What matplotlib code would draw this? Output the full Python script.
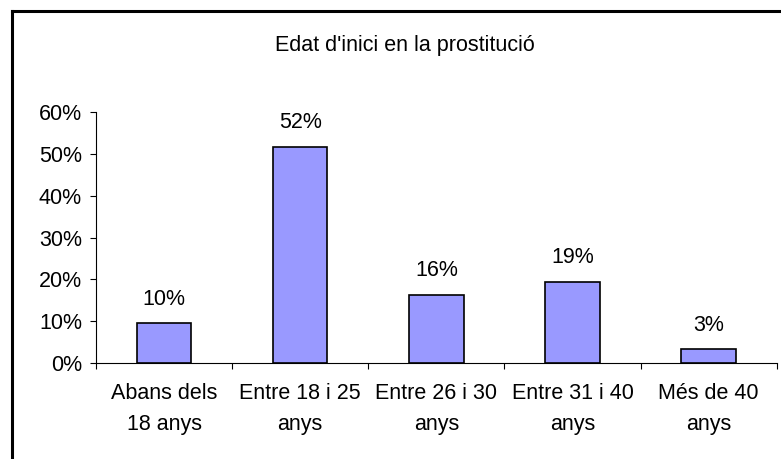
import matplotlib
matplotlib.use("Agg")
import matplotlib.pyplot as plt
from matplotlib.ticker import FuncFormatter, FixedLocator, NullFormatter

plt.rcParams["font.family"] = ["Liberation Sans", "DejaVu Sans"]

# Data
categories = ["Abans dels\n18 anys", "Entre 18 i 25\nanys", "Entre 26 i 30\nanys",
              "Entre 31 i 40\nanys", "Més de 40\nanys"]
values = [9.5, 51.5, 16.3, 19.5, 3.3]
labels = ["10%", "52%", "16%", "19%", "3%"]
yticks = [0, 10, 20, 30, 40, 50, 60]
title = "Edat d'inici en la prostitució"

W, H = 781, 459
fig = plt.figure(figsize=(W / 100, H / 100), dpi=100)
fig.patch.set_facecolor("white")

# outer chart frame (only top and left edges visible in the image)
fig.add_artist(plt.Line2D([12 / W, 12 / W], [0, 1 - 11 / H], color="black", lw=2.2,
                          transform=fig.transFigure))
fig.add_artist(plt.Line2D([12 / W, 1], [1 - 11 / H, 1 - 11 / H], color="black", lw=2.2,
                          transform=fig.transFigure))

left, right = 96 / W, 776.7 / W
bottom, top = (H - 363.3) / H, (H - 111.7) / H
ax = fig.add_axes([left, bottom, right - left, top - bottom])

fs = 15.5
x = list(range(len(categories)))
ax.bar(x, values, width=0.4, color="#9999FF", edgecolor="black", linewidth=1.2, zorder=3)
for xi, v, lab in zip(x, values, labels):
    ax.annotate(lab, (xi, v), xytext=(0, 10), textcoords="offset points",
                ha="center", va="bottom", fontsize=fs)

ax.set_xlim(-0.5, len(categories) - 0.5)
ax.set_ylim(0, 60)
ax.set_yticks(yticks)
ax.yaxis.set_major_formatter(FuncFormatter(lambda v, p: f"{v:.0f}%"))
ax.tick_params(axis="y", length=4, width=0.8, labelsize=fs, pad=6)

ax.xaxis.set_major_locator(FixedLocator(x))
ax.set_xticklabels(categories, fontsize=fs, linespacing=1.65)
ax.tick_params(axis="x", which="major", length=0, pad=14)
ax.xaxis.set_minor_locator(FixedLocator([i - 0.5 for i in range(len(categories) + 1)]))
ax.xaxis.set_minor_formatter(NullFormatter())
ax.tick_params(axis="x", which="minor", length=4, width=0.8)

for s in ["top", "right"]:
    ax.spines[s].set_visible(False)
for s in ["left", "bottom"]:
    ax.spines[s].set_linewidth(0.8)

fig.text(405 / W, 1 - 45 / H, title, ha="center", va="center", fontsize=fs)

fig.savefig("out.png", dpi=100)
